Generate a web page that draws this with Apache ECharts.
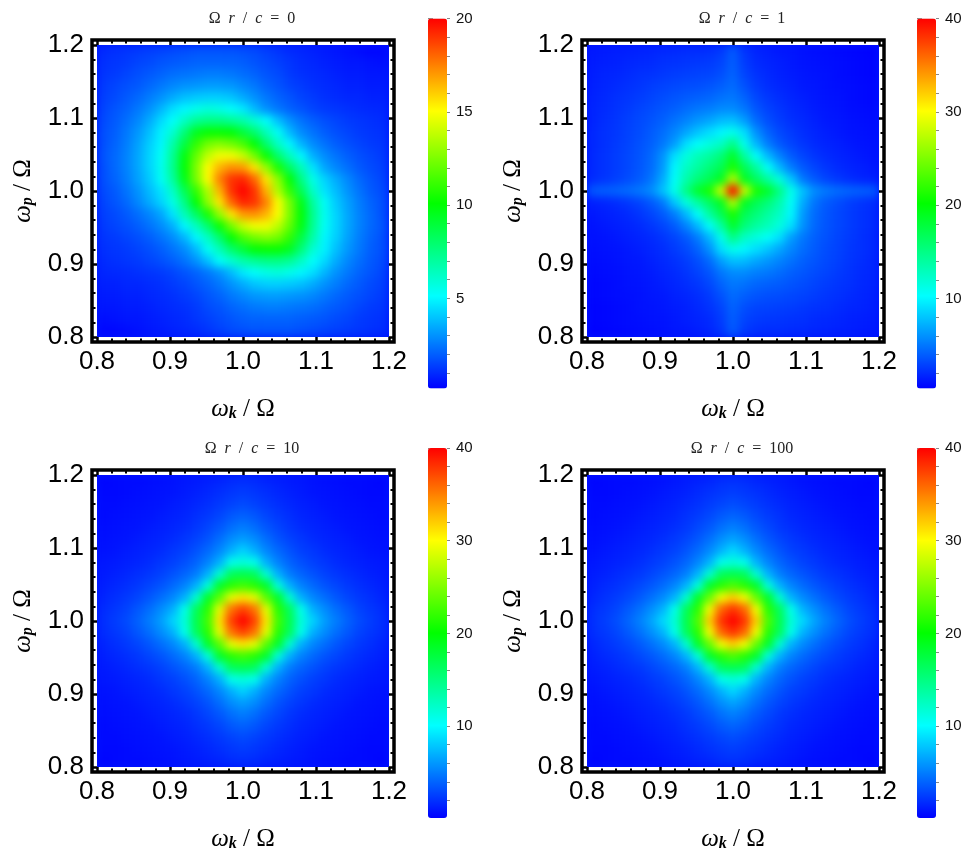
<!DOCTYPE html>
<html><head><meta charset="utf-8">
<style>
html,body{margin:0;padding:0;background:#fff;width:972px;height:856px;overflow:hidden}
.clip{position:absolute;width:292px;height:292px;overflow:hidden;background:#0014ff}
.soft{position:absolute;left:0;top:0;width:292px;height:292px;filter:blur(4px)}
#overlay{position:absolute;left:0;top:0;width:972px;height:856px}
</style>
<script src="https://cdn.jsdelivr.net/npm/echarts@6/dist/echarts.min.js"></script>
</head><body>
<div class="clip" style="left:97px;top:45px"><div class="soft" id="h0"></div></div>
<div class="clip" style="left:587px;top:45px"><div class="soft" id="h1"></div></div>
<div class="clip" style="left:97px;top:475px"><div class="soft" id="h2"></div></div>
<div class="clip" style="left:587px;top:475px"><div class="soft" id="h3"></div></div>
<div id="overlay"></div>
<script>
const omegaStops = [0.808,0.824,0.84,0.856,0.872,0.888,0.904,0.92,0.936,0.952,0.968,0.984,1,1.016,1.032,1.048,1.064,1.08,1.096,1.112,1.128,1.144,1.16,1.176,1.192];
const frameTicks = [0.8,0.9,1.0,1.1,1.2];
const panelTitles = ['0','1','10','100'];
const colorMax = [20,40,40,40];
const colorMin = [0.17,0.35,0.1,0.1];
const colorTicks20 = [5,10,15,20];
const colorMinor20 = [1,2,3,4,5,6,7,8,9,10,11,12,13,14,15,16,17,18,19,20];
const colorTicks40 = [10,20,30,40];
const colorMinor40 = [2,4,6,8,10,12,14,16,18,20,22,24,26,28,30,32,34,36,38,40];
const rampColors = ['#0000ff','#00ffff','#00ff00','#ffff00','#ff0000'];

// rows run from the top (omega_p = 1.192) to the bottom (0.808)
const valuesR0 = [
[1,1.1,1.2,1.3,1.4,1.5,1.6,1.7,1.8,1.8,1.8,1.8,1.7,1.6,1.4,1.2,1,.9,.8,.7,.6,.5,.4,.3,.3],
[1.1,1.2,1.3,1.5,1.6,1.8,1.9,2,2.1,2.1,2.1,2.1,2,1.8,1.6,1.4,1.2,1,.9,.8,.7,.6,.6,.5,.45],
[1.2,1.3,1.5,1.7,1.9,2.1,2.3,2.4,2.5,2.6,2.6,2.5,2.3,2.1,1.8,1.6,1.3,1.1,1,.9,.8,.7,.7,.6,.6],
[1.3,1.5,1.7,1.9,2.2,2.5,2.8,3,3.1,3.2,3.2,3.1,2.8,2.5,2.1,1.8,1.5,1.3,1.1,1,.9,.8,.8,.7,.7],
[1.4,1.6,1.9,2.2,2.6,3,3.5,3.9,4.1,4.2,4.2,4,3.5,3,2.5,2.1,1.8,1.5,1.3,1.1,1,.9,.9,.8,.8],
[1.5,1.8,2.1,2.5,3,3.7,4.5,5,5.5,5.8,5.6,5.2,4.7,3.8,3,2.5,2.1,1.8,1.5,1.3,1.2,1.1,1,.95,.9],
[1.6,1.9,2.3,2.8,3.5,4.4,5.2,6.3,7.2,7.5,7.5,7.2,6.8,6,5.2,3.9,3,2.4,2,1.7,1.5,1.3,1.2,1.1,1],
[1.7,2,2.5,3.1,3.9,4.9,6,7.8,9.5,10.2,10.2,10,9,8,6.5,5.3,3.8,2.9,2.4,2,1.7,1.5,1.3,1.2,1.1],
[1.7,2.1,2.6,3.3,4.2,5,6.8,8.8,11,12.3,12.7,12.3,11.5,10,8,6.3,5,3.7,2.9,2.4,2,1.7,1.5,1.3,1.2],
[1.8,2.2,2.7,3.4,4.3,5.3,7.2,9.8,12,13.8,14.8,14.8,14,12.3,10.2,8,6.4,5,3.6,2.9,2.4,2,1.7,1.5,1.3],
[1.7,2.2,2.7,3.4,4.3,5.4,7.3,10,12.5,15,16.5,17.2,17,15.5,13,10.5,8.2,6.5,4.6,3.4,2.8,2.3,1.9,1.6,1.4],
[1.7,2.1,2.6,3.3,4.1,5.3,7,9.7,12.4,15,17.5,19,19.3,18,15.5,12.8,10,7.5,5.6,4.3,3.5,2.8,2.2,1.8,1.5],
[1.6,1.9,2.4,3,3.8,4.6,6.2,8.5,11,13.5,16.5,19,20,19,16.5,13.5,11,8.5,6.2,4.6,3.8,3,2.4,1.9,1.6],
[1.5,1.8,2.2,2.8,3.5,4.3,5.6,7.5,10,12.8,15.5,18,19.3,19,17.5,15,12.4,9.7,7,5.3,4.1,3.3,2.6,2.1,1.7],
[1.4,1.6,1.9,2.3,2.8,3.4,4.6,6.5,8.2,10.5,13,15.5,17,17.2,16.5,15,12.5,10,7.3,5.4,4.3,3.4,2.7,2.2,1.7],
[1.3,1.5,1.7,2,2.4,2.9,3.6,5,6.4,8,10.2,12.3,14,14.8,14.8,13.8,12,9.8,7.2,5.3,4.3,3.4,2.7,2.2,1.8],
[1.2,1.3,1.5,1.7,2,2.4,2.9,3.7,5,6.3,8,10,11.5,12.3,12.7,12.3,11,8.8,6.8,5,4.2,3.3,2.6,2.1,1.7],
[1.1,1.2,1.3,1.5,1.7,2,2.4,2.9,3.8,5.3,6.5,8,9,10,10.2,10.2,9.5,7.8,6,4.9,3.9,3.1,2.5,2,1.7],
[1,1.1,1.2,1.3,1.5,1.7,2,2.4,3,3.9,5.2,6,6.8,7.2,7.5,7.5,7.2,6.3,5.2,4.4,3.5,2.8,2.3,1.9,1.6],
[.9,.95,1,1.1,1.2,1.3,1.5,1.8,2.1,2.5,3,3.8,4.7,5.2,5.6,5.8,5.5,5,4.5,3.7,3,2.5,2.1,1.8,1.5],
[.8,.8,.9,.9,1,1.1,1.3,1.5,1.8,2.1,2.5,3,3.5,4,4.2,4.2,4.1,3.9,3.5,3,2.6,2.2,1.9,1.6,1.4],
[.7,.7,.8,.8,.9,1,1.1,1.3,1.5,1.8,2.1,2.5,2.8,3.1,3.2,3.2,3.1,3,2.8,2.5,2.2,1.9,1.7,1.5,1.3],
[.6,.6,.7,.7,.8,.9,1,1.1,1.3,1.6,1.8,2.1,2.3,2.5,2.6,2.6,2.5,2.4,2.3,2.1,1.9,1.7,1.5,1.3,1.2],
[.45,.5,.6,.6,.7,.8,.9,1,1.2,1.4,1.6,1.8,2,2.1,2.1,2.1,2.1,2,1.9,1.8,1.6,1.5,1.3,1.2,1.1],
[.3,.3,.4,.5,.6,.7,.8,.9,1,1.2,1.4,1.6,1.7,1.8,1.8,1.8,1.8,1.7,1.6,1.5,1.4,1.3,1.2,1.1,1]
];
const valuesR1 = [
[1.3,1.4,1.5,1.6,1.7,1.8,1.9,2,2.1,2.1,2.2,2.6,3.8,2.4,1.8,1.5,1.3,1.2,1,.9,.8,.7,.6,.5,.4],
[1.4,1.5,1.6,1.8,1.9,2,2.2,2.3,2.4,2.5,2.6,3,4,2.7,2,1.7,1.5,1.3,1.1,1,.9,.8,.7,.6,.5],
[1.5,1.7,1.8,2,2.2,2.3,2.5,2.7,2.8,2.9,3,3.4,4.2,3,2.3,1.9,1.6,1.4,1.2,1.1,1,.8,.7,.6,.5],
[1.6,1.8,2,2.2,2.4,2.7,2.9,3.1,3.3,3.4,3.6,4,4.5,3.5,2.6,2.1,1.8,1.6,1.3,1.2,1,.9,.8,.7,.6],
[1.7,1.9,2.2,2.4,2.7,3,3.3,3.6,3.9,4.1,4.3,4.8,5,4.2,3.1,2.5,2.1,1.8,1.5,1.3,1.1,1,.8,.7,.6],
[1.8,2,2.3,2.6,3,3.3,3.7,4.1,4.6,5,5.3,5.8,5.8,5,3.7,2.9,2.4,2,1.7,1.4,1.2,1.1,.9,.8,.7],
[1.8,2.1,2.4,2.8,3.2,3.6,4.1,4.8,5.5,6.2,6.8,7.6,7.8,6.5,4.5,3.4,2.7,2.2,1.9,1.6,1.3,1.2,1,.9,.8],
[1.9,2.2,2.5,2.9,3.3,3.9,4.6,5.6,6.8,8,9,10,11,9,6,4.2,3.2,2.6,2.1,1.8,1.5,1.3,1.1,1,.9],
[1.9,2.2,2.6,3,3.5,4.1,5,6.5,9,10.5,11.5,12.5,15,11,7.5,5.2,3.8,3,2.4,2,1.7,1.5,1.3,1.1,1],
[2,2.3,2.7,3.1,3.6,4.4,6,9,11.5,13,14,15.5,18.5,14,10.5,7.5,5.4,3.9,3,2.4,2,1.7,1.5,1.3,1.1],
[2,2.3,2.7,3.1,3.7,4.5,6.3,10,12.5,14,15.5,17,21,17,14,10.5,7.5,5.2,3.8,3,2.4,2,1.7,1.5,1.3],
[2.1,2.4,2.8,3.3,3.9,4.9,7,10.5,13.5,15.5,17,19,27,19,16.5,14,11.5,8,5,3.8,3,2.5,2.1,1.8,1.6],
[3.8,4,4.2,4.5,5,5.8,7.8,11,15,18.5,21,28,40,28,21,18.5,15,11,7.8,5.8,5,4.5,4.2,4,3.8],
[1.6,1.8,2.1,2.5,3,3.8,5,8,11.5,14,16.5,19,27,19,17,15.5,13.5,10.5,7,4.9,3.9,3.3,2.8,2.4,2.1],
[1.3,1.5,1.7,2,2.4,3,3.8,5.2,7.5,10.5,14,17,21,17,15.5,14,12.5,10,6.3,4.5,3.7,3.1,2.7,2.3,2],
[1.1,1.3,1.5,1.7,2,2.4,3,3.9,5.4,7.5,10.5,14,18.5,15.5,14,13,11.5,9,6,4.4,3.6,3.1,2.7,2.3,2],
[1,1.1,1.3,1.5,1.7,2,2.4,3,3.8,5.2,7.5,11,15,12.5,11.5,10.5,9,6.5,5,4.1,3.5,3,2.6,2.2,1.9],
[.9,1,1.1,1.3,1.5,1.8,2.1,2.6,3.2,4.2,6,9,11,10,9,8,6.8,5.6,4.6,3.9,3.3,2.9,2.5,2.2,1.9],
[.8,.9,1,1.2,1.3,1.6,1.9,2.2,2.7,3.4,4.5,6.5,7.8,7.6,6.8,6.2,5.5,4.8,4.1,3.6,3.2,2.8,2.4,2.1,1.8],
[.7,.8,.9,1.1,1.2,1.4,1.7,2,2.4,2.9,3.7,5,5.8,5.8,5.3,5,4.6,4.1,3.7,3.3,3,2.6,2.3,2,1.8],
[.6,.7,.8,1,1.1,1.3,1.5,1.8,2.1,2.5,3.1,4.2,5,4.8,4.3,4.1,3.9,3.6,3.3,3,2.7,2.4,2.2,1.9,1.7],
[.6,.7,.8,.9,1,1.2,1.3,1.6,1.8,2.1,2.6,3.5,4.5,4,3.6,3.4,3.3,3.1,2.9,2.7,2.4,2.2,2,1.8,1.6],
[.5,.6,.7,.8,1,1.1,1.2,1.4,1.6,1.9,2.3,3,4.2,3.4,3,2.9,2.8,2.7,2.5,2.3,2.2,2,1.8,1.7,1.5],
[.5,.6,.7,.8,.9,1,1.1,1.3,1.5,1.7,2,2.7,4,3,2.6,2.5,2.4,2.3,2.2,2,1.9,1.8,1.6,1.5,1.4],
[.4,.5,.6,.7,.8,.9,1,1.2,1.3,1.5,1.8,2.4,3.8,2.6,2.2,2.1,2.1,2,1.9,1.8,1.7,1.6,1.5,1.4,1.3]
];
const valuesR10 = [
[.3,.4,.5,.5,.6,.7,.8,1,1.1,1.3,1.5,1.8,1.9,1.8,1.5,1.3,1.1,1,.8,.7,.6,.5,.5,.4,.3],
[.4,.4,.5,.6,.7,.8,.9,1.1,1.3,1.6,1.9,2.2,2.4,2.2,1.9,1.6,1.3,1.1,.9,.8,.7,.6,.5,.4,.4],
[.5,.5,.6,.7,.8,.9,1.1,1.3,1.6,1.9,2.3,2.7,3,2.7,2.3,1.9,1.6,1.3,1.1,.9,.8,.7,.6,.5,.5],
[.5,.6,.7,.8,.9,1.1,1.3,1.5,1.9,2.3,2.8,3.5,3.9,3.5,2.8,2.3,1.9,1.5,1.3,1.1,.9,.8,.7,.6,.5],
[.6,.7,.8,.9,1.1,1.3,1.5,1.8,2.2,2.8,3.5,4.4,5,4.4,3.5,2.8,2.2,1.8,1.5,1.3,1.1,.9,.8,.7,.6],
[.7,.8,.9,1.1,1.3,1.5,1.8,2.2,2.7,3.4,4.4,5.6,6.3,5.6,4.4,3.4,2.7,2.2,1.8,1.5,1.3,1.1,.9,.8,.7],
[.8,.9,1.1,1.3,1.5,1.8,2.2,2.6,3.3,4.2,5.4,7,8.3,7,5.4,4.2,3.3,2.6,2.2,1.8,1.5,1.3,1.1,.9,.8],
[1,1.1,1.3,1.5,1.8,2.2,2.6,3.2,4,5.2,7,10.8,11.5,10.8,7,5.2,4,3.2,2.6,2.2,1.8,1.5,1.3,1.1,1],
[1.1,1.3,1.6,1.9,2.2,2.7,3.3,4,5,7,11.8,16.5,17,16.5,11.8,7,5,4,3.3,2.7,2.2,1.9,1.6,1.3,1.1],
[1.3,1.6,1.9,2.3,2.8,3.4,4.2,5.2,7,11.5,18.5,21.5,22.5,21.5,18.5,11.5,7,5.2,4.2,3.4,2.8,2.3,1.9,1.6,1.3],
[1.5,1.9,2.3,2.8,3.5,4.4,5.4,7,11.8,18.5,23.5,29,31,29,23.5,18.5,11.8,7,5.4,4.4,3.5,2.8,2.3,1.9,1.5],
[1.8,2.2,2.7,3.5,4.4,5.6,7,10.8,16.5,21.5,29,35.5,37.5,35.5,29,21.5,16.5,10.8,7,5.6,4.4,3.5,2.7,2.2,1.8],
[1.9,2.4,3,3.9,5,6.3,8.3,11.5,17,22.5,31,37.5,40,37.5,31,22.5,17,11.5,8.3,6.3,5,3.9,3,2.4,1.9],
[1.8,2.2,2.7,3.5,4.4,5.6,7,10.8,16.5,21.5,29,35.5,37.5,35.5,29,21.5,16.5,10.8,7,5.6,4.4,3.5,2.7,2.2,1.8],
[1.5,1.9,2.3,2.8,3.5,4.4,5.4,7,11.8,18.5,23.5,29,31,29,23.5,18.5,11.8,7,5.4,4.4,3.5,2.8,2.3,1.9,1.5],
[1.3,1.6,1.9,2.3,2.8,3.4,4.2,5.2,7,11.5,18.5,21.5,22.5,21.5,18.5,11.5,7,5.2,4.2,3.4,2.8,2.3,1.9,1.6,1.3],
[1.1,1.3,1.6,1.9,2.2,2.7,3.3,4,5,7,11.8,16.5,17,16.5,11.8,7,5,4,3.3,2.7,2.2,1.9,1.6,1.3,1.1],
[1,1.1,1.3,1.5,1.8,2.2,2.6,3.2,4,5.2,7,10.8,11.5,10.8,7,5.2,4,3.2,2.6,2.2,1.8,1.5,1.3,1.1,1],
[.8,.9,1.1,1.3,1.5,1.8,2.2,2.6,3.3,4.2,5.4,7,8.3,7,5.4,4.2,3.3,2.6,2.2,1.8,1.5,1.3,1.1,.9,.8],
[.7,.8,.9,1.1,1.3,1.5,1.8,2.2,2.7,3.4,4.4,5.6,6.3,5.6,4.4,3.4,2.7,2.2,1.8,1.5,1.3,1.1,.9,.8,.7],
[.6,.7,.8,.9,1.1,1.3,1.5,1.8,2.2,2.8,3.5,4.4,5,4.4,3.5,2.8,2.2,1.8,1.5,1.3,1.1,.9,.8,.7,.6],
[.5,.6,.7,.8,.9,1.1,1.3,1.5,1.9,2.3,2.8,3.5,3.9,3.5,2.8,2.3,1.9,1.5,1.3,1.1,.9,.8,.7,.6,.5],
[.5,.5,.6,.7,.8,.9,1.1,1.3,1.6,1.9,2.3,2.7,3,2.7,2.3,1.9,1.6,1.3,1.1,.9,.8,.7,.6,.5,.5],
[.4,.4,.5,.6,.7,.8,.9,1.1,1.3,1.6,1.9,2.2,2.4,2.2,1.9,1.6,1.3,1.1,.9,.8,.7,.6,.5,.4,.4],
[.3,.4,.5,.5,.6,.7,.8,1,1.1,1.3,1.5,1.8,1.9,1.8,1.5,1.3,1.1,1,.8,.7,.6,.5,.5,.4,.3]
];
const valuesR100 = [
[.3,.4,.5,.5,.6,.7,.8,1,1.2,1.4,1.6,1.9,2,1.9,1.6,1.4,1.2,1,.8,.7,.6,.5,.5,.4,.3],
[.4,.4,.5,.6,.7,.8,1,1.2,1.4,1.7,2,2.3,2.5,2.3,2,1.7,1.4,1.2,1,.8,.7,.6,.5,.4,.4],
[.5,.5,.6,.7,.8,1,1.2,1.4,1.7,2,2.4,2.8,3.1,2.8,2.4,2,1.7,1.4,1.2,1,.8,.7,.6,.5,.5],
[.5,.6,.7,.8,1,1.2,1.4,1.6,2,2.4,2.9,3.6,4,3.6,2.9,2.4,2,1.6,1.4,1.2,1,.8,.7,.6,.5],
[.6,.7,.8,1,1.2,1.4,1.6,1.9,2.3,2.9,3.6,4.5,5.1,4.5,3.6,2.9,2.3,1.9,1.6,1.4,1.2,1,.8,.7,.6],
[.7,.8,1,1.2,1.4,1.6,1.9,2.3,2.8,3.5,4.5,5.7,6.5,5.7,4.5,3.5,2.8,2.3,1.9,1.6,1.4,1.2,1,.8,.7],
[.8,1,1.2,1.4,1.6,1.9,2.3,2.7,3.4,4.3,5.5,7.1,8.5,7.1,5.5,4.3,3.4,2.7,2.3,1.9,1.6,1.4,1.2,1,.8],
[1,1.2,1.4,1.6,1.9,2.3,2.7,3.3,4.1,5.3,7.1,10.8,11.6,10.8,7.1,5.3,4.1,3.3,2.7,2.3,1.9,1.6,1.4,1.2,1],
[1.2,1.4,1.7,2,2.3,2.8,3.4,4.1,5.1,7.1,11.8,16.5,17,16.5,11.8,7.1,5.1,4.1,3.4,2.8,2.3,2,1.7,1.4,1.2],
[1.4,1.7,2,2.4,2.9,3.5,4.3,5.3,7.1,11.5,18.5,21.5,23,21.5,18.5,11.5,7.1,5.3,4.3,3.5,2.9,2.4,2,1.7,1.4],
[1.6,2,2.4,2.9,3.6,4.5,5.5,7.1,11.8,18.5,24,29.5,32,29.5,24,18.5,11.8,7.1,5.5,4.5,3.6,2.9,2.4,2,1.6],
[1.9,2.3,2.8,3.6,4.5,5.7,7.1,10.8,16.5,21.5,29.5,36,38,36,29.5,21.5,16.5,10.8,7.1,5.7,4.5,3.6,2.8,2.3,1.9],
[2,2.5,3.1,4,5.1,6.5,8.5,11.6,17,23,32,38,40,38,32,23,17,11.6,8.5,6.5,5.1,4,3.1,2.5,2],
[1.9,2.3,2.8,3.6,4.5,5.7,7.1,10.8,16.5,21.5,29.5,36,38,36,29.5,21.5,16.5,10.8,7.1,5.7,4.5,3.6,2.8,2.3,1.9],
[1.6,2,2.4,2.9,3.6,4.5,5.5,7.1,11.8,18.5,24,29.5,32,29.5,24,18.5,11.8,7.1,5.5,4.5,3.6,2.9,2.4,2,1.6],
[1.4,1.7,2,2.4,2.9,3.5,4.3,5.3,7.1,11.5,18.5,21.5,23,21.5,18.5,11.5,7.1,5.3,4.3,3.5,2.9,2.4,2,1.7,1.4],
[1.2,1.4,1.7,2,2.3,2.8,3.4,4.1,5.1,7.1,11.8,16.5,17,16.5,11.8,7.1,5.1,4.1,3.4,2.8,2.3,2,1.7,1.4,1.2],
[1,1.2,1.4,1.6,1.9,2.3,2.7,3.3,4.1,5.3,7.1,10.8,11.6,10.8,7.1,5.3,4.1,3.3,2.7,2.3,1.9,1.6,1.4,1.2,1],
[.8,1,1.2,1.4,1.6,1.9,2.3,2.7,3.4,4.3,5.5,7.1,8.5,7.1,5.5,4.3,3.4,2.7,2.3,1.9,1.6,1.4,1.2,1,.8],
[.7,.8,1,1.2,1.4,1.6,1.9,2.3,2.8,3.5,4.5,5.7,6.5,5.7,4.5,3.5,2.8,2.3,1.9,1.6,1.4,1.2,1,.8,.7],
[.6,.7,.8,1,1.2,1.4,1.6,1.9,2.3,2.9,3.6,4.5,5.1,4.5,3.6,2.9,2.3,1.9,1.6,1.4,1.2,1,.8,.7,.6],
[.5,.6,.7,.8,1,1.2,1.4,1.6,2,2.4,2.9,3.6,4,3.6,2.9,2.4,2,1.6,1.4,1.2,1,.8,.7,.6,.5],
[.5,.5,.6,.7,.8,1,1.2,1.4,1.7,2,2.4,2.8,3.1,2.8,2.4,2,1.7,1.4,1.2,1,.8,.7,.6,.5,.5],
[.4,.4,.5,.6,.7,.8,1,1.2,1.4,1.7,2,2.3,2.5,2.3,2,1.7,1.4,1.2,1,.8,.7,.6,.5,.4,.4],
[.3,.4,.5,.5,.6,.7,.8,1,1.2,1.4,1.6,1.9,2,1.9,1.6,1.4,1.2,1,.8,.7,.6,.5,.5,.4,.3]
];
const panelValues = [valuesR0, valuesR1, valuesR10, valuesR100];

// heat layers
panelValues.forEach((rows, p) => {
  const data = [];
  rows.forEach((row, r) => row.forEach((v, c) => data.push([c, rows.length - 1 - r, v])));
  const chart = echarts.init(document.getElementById('h' + p), null, {renderer: 'canvas'});
  chart.setOption({
    animation: false,
    grid: {left: 0, top: 0, right: 0, bottom: 0},
    xAxis: {type: 'category', show: false, data: omegaStops},
    yAxis: {type: 'category', show: false, data: omegaStops},
    visualMap: {show: false, min: colorMin[p], max: colorMax[p], inRange: {color: rampColors}},
    series: [{type: 'heatmap', data, progressive: 0, itemStyle: {borderWidth: 0}}]
  });
});

// frames, axes, colour bars
const SERIF = '"Liberation Serif","DejaVu Serif",serif';
const SANS = '"Liberation Sans",Arial,sans-serif';
const plotX = [97, 587, 97, 587];
const plotY = [45, 45, 475, 475];
const barX = [428, 917, 428, 917];
const barY = [18.5, 18.5, 448, 448];
const PLOT = 292, BARW = 19, BARH = 370, GAP = 5;

const opt = {animation: false, title: [], grid: [], xAxis: [], yAxis: [], visualMap: [], series: []};
const nameRich = {
  w: {fontFamily: SERIF, fontSize: 25, fontStyle: 'italic', color: '#000'},
  s: {fontFamily: SERIF, fontSize: 16, fontStyle: 'italic', fontWeight: 'bold', color: '#000', verticalAlign: 'bottom', padding: [10, 0, 0, 0]},
  o: {fontFamily: SERIF, fontSize: 25, color: '#000'}
};
const titleRich = {
  a: {fontFamily: SERIF, fontSize: 16, fontWeight: 'normal', color: '#222'},
  i: {fontFamily: SERIF, fontSize: 16, fontWeight: 'normal', fontStyle: 'italic', color: '#222'}
};
function frameAxis(pos, gridIndex, labelled, kind) {
  const base = {
    type: 'value', gridIndex, min: frameTicks[0], max: frameTicks[frameTicks.length - 1], interval: 0.1,
    position: pos, offset: GAP, splitLine: {show: false},
    axisLine: {show: false},
    axisTick: {show: true, inside: true, length: 5, lineStyle: {color: '#000', width: 2.5}},
    minorTick: {show: true, splitNumber: 5, length: 3.5, lineStyle: {color: '#000', width: 2}},
    axisLabel: {show: labelled, inside: false, margin: kind === 'x' ? 7 : 8, padding: kind === 'y' ? [4, 0, 0, 0] : 0,
      fontFamily: SANS, fontSize: 26, color: '#000',
      formatter: v => v.toFixed(1), showMinLabel: true, showMaxLabel: true}
  };
  if (labelled) {
    base.nameLocation = 'middle';
    base.nameTextStyle = {rich: nameRich};
    if (kind === 'x') { base.name = '{w|ω}{s|k}{o| / Ω}'; base.nameGap = 54; }
    else { base.name = '{w|ω}{s|p}{o| / Ω}'; base.nameGap = 56; base.nameRotate = 90; }
  }
  return base;
}
panelValues.forEach((_, p) => {
  opt.title.push({
    text: '{a|Ω  }{i|r}{a|  /  }{i|c}{a|  =  ' + panelTitles[p] + '}',
    left: plotX[p] + PLOT / 2 + 4, top: plotY[p] - 39, textAlign: 'center', textStyle: {fontWeight: 'normal', rich: titleRich}
  });
  // frame box
  opt.grid.push({left: plotX[p] - GAP, top: plotY[p] - GAP, width: PLOT + 2 * GAP, height: PLOT + 2 * GAP, show: true,
    borderColor: '#000', borderWidth: 3.5, backgroundColor: 'transparent'});
  // tick grid
  opt.grid.push({left: plotX[p], top: plotY[p], width: PLOT, height: PLOT});
  const g1 = opt.grid.length - 1;
  opt.xAxis.push(frameAxis('bottom', g1, true, 'x'), frameAxis('top', g1, false, 'x'));
  opt.yAxis.push(frameAxis('left', g1, true, 'y'), frameAxis('right', g1, false, 'y'));
  // colour bar
  opt.visualMap.push({type: 'continuous', show: true, seriesIndex: [], min: colorMin[p], max: colorMax[p], left: barX[p], top: barY[p],
    itemWidth: BARW, itemHeight: BARH, calculable: false, realtime: false, hoverLink: false, text: null, showLabel: false,
    padding: 0, inRange: {color: rampColors}, textStyle: {fontSize: 0}});
  opt.grid.push({left: barX[p], top: barY[p], width: BARW, height: BARH});
  const g2 = opt.grid.length - 1;
  const major = colorMax[p] === 20 ? colorTicks20 : colorTicks40;
  const minor = colorMax[p] === 20 ? colorMinor20 : colorMinor40;
  opt.xAxis.push({type: 'value', gridIndex: g2, show: false, min: 0, max: 1});
  opt.yAxis.push({type: 'value', gridIndex: g2, position: 'right', min: colorMin[p], max: colorMax[p],
    splitLine: {show: false}, axisLine: {show: false},
    axisTick: {show: true, length: 5, customValues: major, lineStyle: {color: '#888', width: 1}},
    axisLabel: {show: true, customValues: major, margin: 9, fontFamily: SANS, fontSize: 15, color: '#111'}});
  opt.yAxis.push({type: 'value', gridIndex: g2, position: 'right', min: colorMin[p], max: colorMax[p],
    splitLine: {show: false}, axisLine: {show: false},
    axisTick: {show: true, length: 3, customValues: minor, lineStyle: {color: '#888', width: 1}},
    axisLabel: {show: false}});
});
const overlay = echarts.init(document.getElementById('overlay'), null, {renderer: 'canvas'});
overlay.setOption(opt);
</script>
</body></html>
